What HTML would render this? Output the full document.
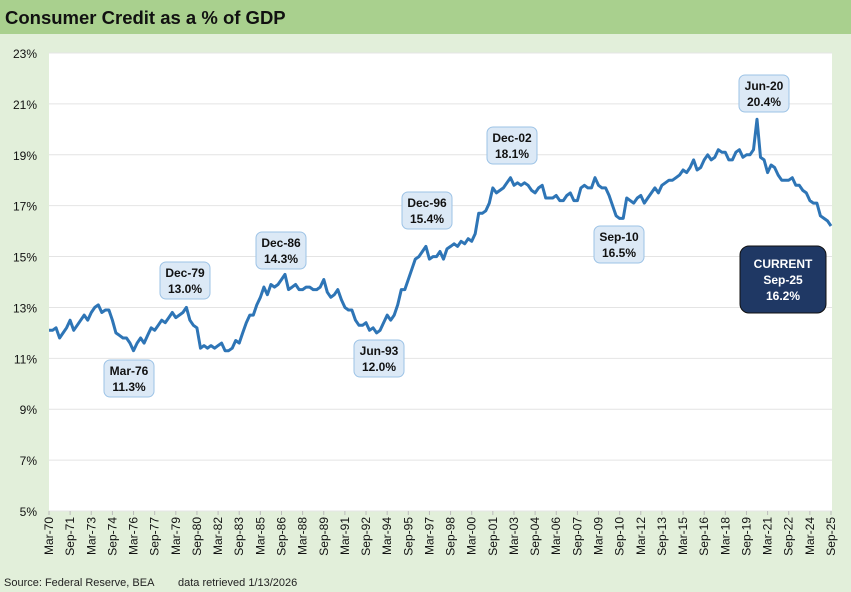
<!DOCTYPE html>
<html><head><meta charset="utf-8"><style>
body{margin:0;width:851px;height:592px;overflow:hidden;background:#e2efda;font-family:"Liberation Sans",Arial,sans-serif}
</style></head><body>
<svg id="c" width="851" height="592" xmlns="http://www.w3.org/2000/svg" style="display:block">
<rect x="0" y="0" width="851" height="592" fill="#e2efda"/>
<rect x="0" y="0" width="851" height="34" fill="#a9d08e"/>
<text x="5" y="24" font-size="18.5" font-weight="bold" fill="#111">Consumer Credit as a % of GDP</text>
<rect x="49" y="53" width="783" height="458" fill="#fff"/>
<g id="grid"></g><g id="yt"></g><g id="xt"></g>
<path id="line" fill="none" stroke="#2e75b6" stroke-width="3" stroke-linejoin="round"/>
<g id="ann"></g>
<text x="4" y="586" font-size="11" fill="#222">Source: Federal Reserve, BEA</text>
<text x="178" y="586" font-size="11" fill="#222">data retrieved 1/13/2026</text>
</svg>
<script>
const values=[
12.1,12.1,12.2,11.8, 12.0,12.2,12.5,12.1, 12.3,12.5,12.7,12.5, 12.8,13.0,13.1,12.8,
12.9,12.9,12.5,12.0, 11.9,11.8,11.8,11.6, 11.3,11.6,11.8,11.6, 11.9,12.2,12.1,12.3,
12.5,12.4,12.6,12.8, 12.6,12.7,12.8,13.0, 12.5,12.3,12.2,11.4, 11.5,11.4,11.5,11.4,
11.5,11.6,11.3,11.3, 11.4,11.7,11.6,12.0, 12.4,12.7,12.7,13.1, 13.4,13.8,13.5,13.9,
13.8,13.9,14.1,14.3, 13.7,13.8,13.9,13.7, 13.7,13.8,13.8,13.7, 13.7,13.8,14.1,13.6,
13.4,13.5,13.7,13.3, 13.0,12.9,12.9,12.5, 12.3,12.3,12.4,12.1, 12.2,12.0,12.1,12.4,
12.7,12.5,12.7,13.1, 13.7,13.7,14.1,14.5, 14.9,15.0,15.2,15.4, 14.9,15.0,15.0,15.2,
14.9,15.3,15.4,15.5, 15.4,15.6,15.5,15.7, 15.6,15.9,16.7,16.7, 16.8,17.1,17.7,17.5,
17.6,17.7,17.9,18.1, 17.8,17.9,17.8,17.9, 17.8,17.6,17.5,17.7, 17.8,17.3,17.3,17.3,
17.4,17.2,17.2,17.4, 17.5,17.2,17.2,17.7, 17.8,17.7,17.7,18.1, 17.8,17.7,17.7,17.4,
17.0,16.6,16.5,16.5, 17.3,17.2,17.1,17.3, 17.4,17.1,17.3,17.5, 17.7,17.5,17.8,17.9,
18.0,18.0,18.1,18.2, 18.4,18.3,18.5,18.8, 18.4,18.5,18.8,19.0, 18.8,18.9,19.2,19.1,
19.1,18.8,18.8,19.1, 19.2,18.9,19.0,19.0, 19.2,20.4,18.9,18.8, 18.3,18.6,18.5,18.2,
18.0,18.0,18.0,18.1, 17.8,17.8,17.6,17.5, 17.2,17.1,17.1,16.6, 16.5,16.4,16.2];
const yTicks=[5,7,9,11,13,15,17,19,21,23];
const startYear=1970;
const annLabels=["Mar-76","Dec-79","Dec-86","Jun-93","Dec-96","Dec-02","Sep-10","Jun-20"];
const annValues=["11.3%","13.0%","14.3%","12.0%","15.4%","18.1%","16.5%","20.4%"];
const annBox=[[104,360],[160,262],[256,232],[354,340],[402,192],[487,127],[594,226],[739,75]];
const NS="http://www.w3.org/2000/svg";
const X0=49,X1=831,Y0=511,Y1=53;
const n=values.length;
function xs(i){return X0+i*(X1-X0)/(n-1);}
function ys(v){return Y0-(v-5)*(Y0-Y1)/18;}
function el(t,a,p){const e=document.createElementNS(NS,t);for(const k in a)e.setAttribute(k,a[k]);p.appendChild(e);return e;}
const grid=document.getElementById('grid'),yt=document.getElementById('yt'),xt=document.getElementById('xt'),ann=document.getElementById('ann');
yTicks.forEach(v=>{
  const l=el('line',{x1:X0,x2:832,y1:ys(v),y2:ys(v),stroke:'#e4e4e4','stroke-width':1},grid);
  
  
  const t=el('text',{x:37,y:ys(v)+5,'font-size':12,'text-anchor':'end',fill:'#111'},yt);
  t.textContent=v+'%';
  
  
});
const mon=['Mar','Jun','Sep','Dec'];
for(let i=0;i<n;i+=6){
  const yr=startYear+Math.floor(i/4);
  const lab=mon[i%4]+'-'+String(yr%100).padStart(2,'0');
  const x=xs(i);
  const tk=el('line',{x1:x,x2:x,y1:511,y2:515,stroke:'#bbb'},xt);
  
  
  const t=el('text',{x:0,y:0,'font-size':12,'text-anchor':'end',fill:'#111',transform:`translate(${x+4},${517}) rotate(-90)`},xt);
  t.textContent=lab;
  
  
}
document.getElementById('line').setAttribute('d',values.map((v,i)=>(i?'L':'M')+xs(i).toFixed(1)+','+ys(v).toFixed(1)).join(''));
annLabels.forEach((lab,i)=>{
  const [bx,by]=annBox[i];
  const g=el('g',{},ann);
  
  
  el('rect',{x:bx,y:by,width:50,height:37,rx:6,fill:'#dce9f6',stroke:'#9dc3e6'},g);
  const t1=el('text',{x:bx+25,y:by+15,'font-size':12,'font-weight':'bold','text-anchor':'middle',fill:'#111'},g);t1.textContent=lab;
  const t2=el('text',{x:bx+25,y:by+31,'font-size':12,'font-weight':'bold','text-anchor':'middle',fill:'#111'},g);t2.textContent=annValues[i];
});
const cg=el('g',{},ann);


el('rect',{x:740,y:246,width:86,height:67,rx:9,fill:'#1f3864',stroke:'#111'},cg);
['CURRENT','Sep-25',values[n-1].toFixed(1)+'%'].forEach((s,k)=>{const t=el('text',{x:783,y:268+k*16,'font-size':12,'font-weight':'bold','text-anchor':'middle',fill:'#fff'},cg);t.textContent=s;});
</script>
</body></html>
